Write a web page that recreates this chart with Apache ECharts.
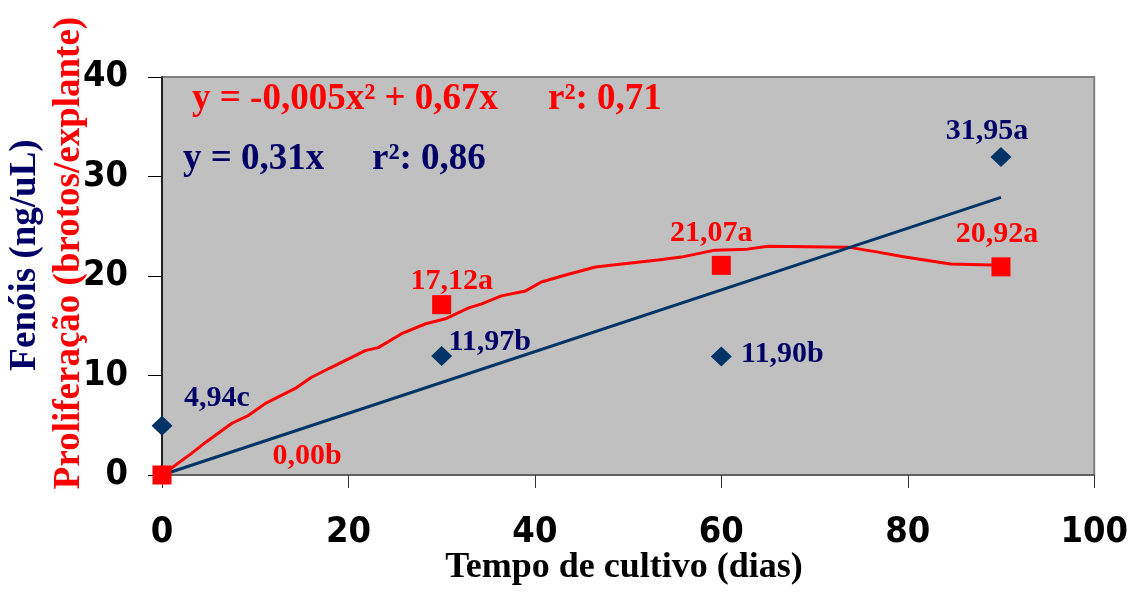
<!DOCTYPE html>
<html>
<head>
<meta charset="utf-8">
<script src="https://cdn.jsdelivr.net/npm/echarts@6/dist/echarts.min.js"></script>
<style>
  html, body { margin: 0; padding: 0; background: #ffffff; }
  #chart { width: 1131px; height: 592px; }
</style>
</head>
<body>
<div id="chart"></div>
<script>
// Sampling days and measured means
const days = [0, 30, 60, 90];
const fenois = [4.94, 11.97, 11.90, 31.95];
const fenoisLetters = ['c', 'b', 'b', 'a'];
const proliferacao = [0.00, 17.12, 21.07, 20.92];
const proliferacaoLetters = ['b', 'a', 'a', 'a'];

// Linear fit for phenols (y = 0,31x), over the sampled range
const fenoisFitX = [0, 90];
const fenoisFitY = [0, 27.9];

// Fitted proliferation curve, as traced
const prolifFitX = [0, 3.2, 4.7, 7.5, 9.3, 11.1, 14.3, 16.0, 17.9, 21.8, 23.2, 25.7, 28.3, 30.4, 32.9,
  34.3, 36.4, 39.0, 40.7, 43.3, 46.5, 50.3, 53.2, 55.7, 59.3, 62.8, 65.0, 73.6, 76.8, 79.7, 84.6, 88.9, 90];
const prolifFitY = [0, 2.2, 3.3, 5.2, 6.0, 7.2, 8.7, 9.8, 10.7, 12.5, 12.8, 14.2, 15.2, 15.7, 16.8,
  17.2, 18.0, 18.5, 19.4, 20.1, 20.9, 21.3, 21.6, 21.9, 22.6, 22.7, 23.0, 22.9, 22.4, 21.9, 21.2, 21.1, 21.1];

// Equation annotations
const eqProlif = ['y = -0,005x² + 0,67x', 'r²: 0,71'];
const eqFenois = ['y = 0,31x', 'r²: 0,86'];

const xAxisTitle = 'Tempo de cultivo (dias)';
const yTitleFenois = 'Fenóis (ng/uL)';
const yTitleProlif = 'Proliferação (brotos/explante)';

// Label placement around each marker (pixels)
const fenoisLabelOffset = [[55, -28], [48, -14], [61, -2], [-14, -26]];
const prolifLabelOffset = [[145, -19], [10, -23], [-10, -32], [-4, -33]];

const NAVY = '#000066';
const BLUE = '#003366';
const RED = '#FF0000';
const SERIF = "'Liberation Serif', 'Times New Roman', serif";
const NARROW = "'Liberation Sans Narrow', 'DejaVu Sans Condensed', 'Arial Narrow', sans-serif";

const fmt = (v, letter) => v.toFixed(2).replace('.', ',') + letter;
const zip = (xs, ys) => xs.map((x, i) => [x, ys[i]]);

const chart = echarts.init(document.getElementById('chart'), null, { renderer: 'canvas' });

const valueLabel = (color) => ({
  show: true,
  position: 'inside',
  color: color,
  fontFamily: SERIF,
  fontWeight: 'bold',
  fontSize: 30
});

const tickLabel = {
  color: '#000000',
  fontFamily: NARROW,
  fontWeight: 'bold',
  fontSize: 36
};

chart.setOption({
  animation: false,
  backgroundColor: '#ffffff',
  grid: {
    left: 162, right: 36, top: 77, bottom: 117,
    show: true,
    backgroundColor: '#C0C0C0',
    borderColor: '#808080',
    borderWidth: 2
  },
  xAxis: {
    type: 'value',
    min: 0, max: 100, interval: 20,
    axisLine: { show: true, onZero: false, lineStyle: { color: '#555555', width: 1.5 } },
    axisTick: { show: true, length: 13, inside: false, lineStyle: { color: '#333333', width: 1 } },
    splitLine: { show: false },
    axisLabel: Object.assign({ margin: 40 }, tickLabel)
  },
  yAxis: {
    type: 'value',
    min: 0, max: 40, interval: 10,
    axisLine: { show: true, onZero: false, lineStyle: { color: '#000000', width: 1.5 } },
    axisTick: { show: true, length: 14, inside: false, lineStyle: { color: '#000000', width: 1 } },
    splitLine: { show: false },
    axisLabel: Object.assign({ margin: 34 }, tickLabel)
  },
  series: [
    {
      name: 'Proliferação (ajuste)',
      type: 'line',
      data: zip(prolifFitX, prolifFitY),
      showSymbol: false,
      symbol: 'none',
      lineStyle: { color: RED, width: 3 },
      z: 2
    },
    {
      name: 'Fenóis (ajuste)',
      type: 'line',
      data: zip(fenoisFitX, fenoisFitY),
      showSymbol: false,
      symbol: 'none',
      lineStyle: { color: BLUE, width: 3 },
      z: 3
    },
    {
      name: 'Fenóis',
      type: 'scatter',
      symbol: 'diamond',
      symbolSize: [21, 20],
      clip: false,
      itemStyle: { color: BLUE, opacity: 1 },
      label: Object.assign(valueLabel(NAVY), {
        formatter: (p) => fmt(p.value[1], fenoisLetters[p.dataIndex])
      }),
      data: days.map((d, i) => ({ value: [d, fenois[i]], label: { offset: fenoisLabelOffset[i] } })),
      z: 5
    },
    {
      name: 'Proliferação',
      type: 'scatter',
      symbol: 'rect',
      symbolSize: 19,
      clip: false,
      itemStyle: { color: RED, opacity: 1 },
      label: Object.assign(valueLabel(RED), {
        formatter: (p) => fmt(p.value[1], proliferacaoLetters[p.dataIndex])
      }),
      data: days.map((d, i) => ({ value: [d, proliferacao[i]], label: { offset: prolifLabelOffset[i] } })),
      z: 6
    }
  ],
  graphic: [
    { type: 'text', z: 20, style: { x: 192, y: 99, text: eqProlif[0], fill: RED, font: 'bold 37px ' + SERIF, align: 'left', verticalAlign: 'middle' } },
    { type: 'text', z: 20, style: { x: 548, y: 99, text: eqProlif[1], fill: RED, font: 'bold 37px ' + SERIF, align: 'left', verticalAlign: 'middle' } },
    { type: 'text', z: 20, style: { x: 183, y: 159, text: eqFenois[0], fill: NAVY, font: 'bold 37px ' + SERIF, align: 'left', verticalAlign: 'middle' } },
    { type: 'text', z: 20, style: { x: 372, y: 159, text: eqFenois[1], fill: NAVY, font: 'bold 37px ' + SERIF, align: 'left', verticalAlign: 'middle' } },
    { type: 'text', z: 20, style: { x: 624, y: 568, text: xAxisTitle, fill: '#000000', font: 'bold 36px ' + SERIF, align: 'center', verticalAlign: 'middle' } },
    { type: 'text', z: 20, x: 25, y: 255, rotation: Math.PI / 2, style: { x: 0, y: 0, text: yTitleFenois, fill: NAVY, font: 'bold 37px ' + SERIF, align: 'center', verticalAlign: 'middle' } },
    { type: 'text', z: 20, x: 69, y: 253, rotation: Math.PI / 2, style: { x: 0, y: 0, text: yTitleProlif, fill: RED, font: 'bold 37px ' + SERIF, align: 'center', verticalAlign: 'middle' } }
  ]
});
</script>
</body>
</html>
